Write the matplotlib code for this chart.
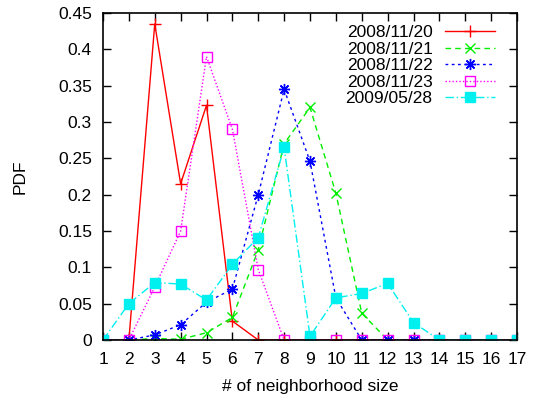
import matplotlib
matplotlib.use("Agg")
import matplotlib.pyplot as plt

plt.rcParams['font.family'] = ['Liberation Sans', 'DejaVu Sans']

x = list(range(1, 18))
labels = ["2008/11/20", "2008/11/21", "2008/11/22", "2008/11/23", "2009/05/28"]
s1120 = [0, 0, 0.435, 0.215, 0.323, 0.026, 0, 0, 0, 0, 0, 0, 0, 0, 0, 0, 0]
s1121 = [0, 0, 0.002, 0.001, 0.010, 0.031, 0.124, 0.270, 0.320, 0.202, 0.037, 0, 0, 0, 0, 0, 0]
s1122 = [0, 0, 0.007, 0.021, 0.052, 0.070, 0.200, 0.345, 0.246, 0.058, 0, 0, 0, 0, 0, 0, 0]
s1123 = [0, 0, 0.073, 0.150, 0.390, 0.290, 0.097, 0, 0, 0, 0, 0, 0, 0, 0, 0, 0]
s0528 = [0, 0.050, 0.079, 0.077, 0.055, 0.104, 0.141, 0.265, 0.005, 0.058, 0.064, 0.078, 0.024, 0, 0, 0, 0]

fig = plt.figure(figsize=(5.33, 3.98), dpi=100)
ax = fig.add_axes([103/533, 1-340/398, (517-103)/533, (340-13)/398])

ms = 8
ax.plot(x, s1120, color='#ff0000', ls='-', lw=1, marker='+', ms=ms, mew=1, label=labels[0])
ax.plot(x, s1121, color='#00ee00', ls=(0, (4, 3)), lw=1, marker='x', ms=6.5, mew=1, label=labels[1])
ax.plot(x, s1122, color='#0000ff', ls=(0, (2, 2.5)), lw=1, marker=(8, 2, 0), ms=ms, mew=1, label=labels[2])
ax.plot(x, s1123, color='#ff00ff', ls=(0, (1, 1.5)), lw=1, marker='s', ms=7, mew=1, mfc='none', label=labels[3])
ax.plot(x, s0528, color='#00f0f0', ls=(0, (6, 2, 1, 2)), lw=1, marker='s', ms=7, mew=1, label=labels[4])

ax.set_xlim(1, 17)
ax.set_ylim(0, 0.45)
ax.set_xticks(x)
ax.set_yticks([0, 0.05, 0.1, 0.15, 0.2, 0.25, 0.3, 0.35, 0.4, 0.45])
ax.set_yticklabels(['0', '0.05', '0.1', '0.15', '0.2', '0.25', '0.3', '0.35', '0.4', '0.45'])
ax.tick_params(direction='in', length=6, width=1, top=True, right=True, labelsize=12.5)
ax.tick_params(axis='x', pad=8.5)
ax.tick_params(axis='y', pad=8)
for sp in ax.spines.values():
    sp.set_linewidth(1.2)

ax.set_xlabel('# of neighborhood size', fontsize=12.5, labelpad=9)
fig.text(20/533, 1-177/398, 'PDF', fontsize=12.5, ha='center', va='center', rotation=90)

leg = ax.legend(loc='upper right', bbox_to_anchor=((495-103)/414, (340-25)/327), frameon=False,
                markerfirst=False, fontsize=12.5, handlelength=2.9, handletextpad=0.7,
                labelspacing=0.08, borderaxespad=0, borderpad=0)
for t in leg.get_texts():
    t.set_ha('right')

fig.savefig('out.png', dpi=100)
